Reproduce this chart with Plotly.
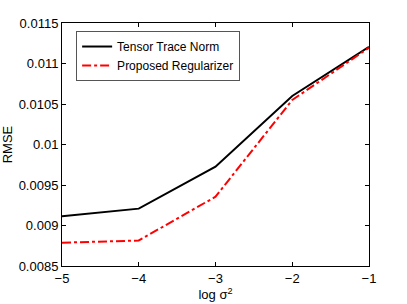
import plotly.graph_objects as go

x_vals = [-5, -4, -3, -2, -1]
tensor_trace = [0.009113, 0.009208, 0.009726, 0.010599, 0.011205]
proposed = [0.008788, 0.008815, 0.009355, 0.01055, 0.011195]
y_ticks = [0.0085, 0.009, 0.0095, 0.01, 0.0105, 0.011, 0.0115]
y_tick_text = ["0.0085", "0.009", "0.0095", "0.01", "0.0105", "0.011", "0.0115"]
x_ticks = [-5, -4, -3, -2, -1]

fig = go.Figure()
fig.add_trace(go.Scatter(x=x_vals, y=tensor_trace, mode="lines", name="Tensor Trace Norm",
                         line=dict(color="black", width=2)))
fig.add_trace(go.Scatter(x=x_vals, y=proposed, mode="lines", name="Proposed Regularizer",
                         line=dict(color="red", width=2, dash="dashdot")))

axis_common = dict(showgrid=False, zeroline=False, showline=True, linecolor="black", linewidth=1,
                   ticks="inside", ticklen=4, tickcolor="black", mirror="ticks", automargin=False,
                   tickfont=dict(size=13, color="black"))
fig.update_xaxes(range=[-5, -1], tickvals=x_ticks,
                 title=dict(text="log σ<sup>2</sup>", font=dict(size=13, color="black"), standoff=2),
                 **axis_common)
fig.update_yaxes(range=[0.0085, 0.0115], tickvals=y_ticks, ticktext=y_tick_text,
                 title=dict(text="RMSE", font=dict(size=13, color="black"), standoff=3),
                 **axis_common)

fig.update_layout(
    width=407, height=304,
    margin=dict(l=62, r=38, t=23, b=38),
    paper_bgcolor="white", plot_bgcolor="white",
    font=dict(family="Liberation Sans, Arial, sans-serif", size=13, color="black"),
    showlegend=True,
    legend=dict(x=0.046, y=0.967, xanchor="left", yanchor="top",
                bordercolor="#555", borderwidth=1, bgcolor="white",
                font=dict(size=12), tracegroupgap=0, itemwidth=30),
)

fig.write_html("out.html", config={"displayModeBar": False},
               post_script="document.body.style.margin='0';document.body.style.overflow='hidden';")
